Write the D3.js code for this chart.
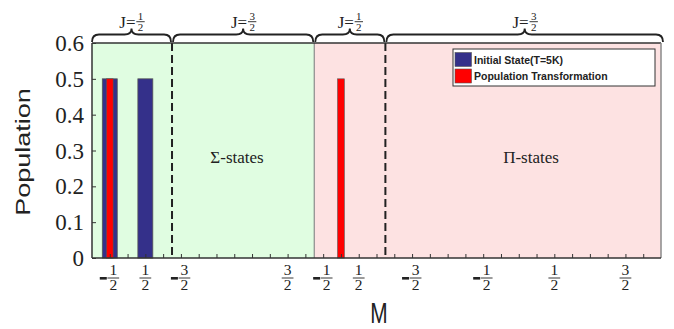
<!DOCTYPE html>
<html>
<head>
<meta charset="utf-8">
<script src="https://cdn.jsdelivr.net/npm/d3@7"></script>
<style>
  html, body { margin: 0; padding: 0; background: #fff; }
  svg { display: block; }
</style>
</head>
<body>
<svg id="chart" width="674" height="329"></svg>
<script>
// Slot index along the M axis (one slot per tick)
const slotTicks = d3.range(1, 32);

// Labelled M values: slot position, numerator, sign
const labelSlots = [1, 3, 5, 11, 13, 15, 18, 22, 26, 30];
const labelNumerators = ["1", "1", "3", "3", "1", "1", "3", "1", "1", "3"];
const labelNegative = [true, false, true, false, true, false, true, true, false, false];

// Series
const initialSlots = [1, 3];
const initialValues = [0.5, 0.5];
const transformSlots = [1, 14];
const transformValues = [0.5, 0.5];

// Electronic-state regions and J manifolds
const regionNames = ["\u03A3-states", "\u03A0-states"];
const regionBounds = [[0, 12.5], [12.5, 32]];
const manifoldBounds = [[0, 4.5], [4.5, 12.5], [12.5, 16.5], [16.5, 32]];
const manifoldJ = ["1", "3", "1", "3"];
const dividerSlots = [4.5, 16.5];

const yTicks = [0, 0.1, 0.2, 0.3, 0.4, 0.5, 0.6];
const legendLabels = ["Initial State(T=5K)", "Population Transformation"];
const colors = { initial: "#34308a", transform: "#ff0000" };
const regionFill = ["#e0fde1", "#fde2e2"];

const svg = d3.select("#chart");
const x = d3.scaleLinear().domain([0, 32]).range([92, 661]);
const y = d3.scaleLinear().domain([0, 0.6]).range([258, 43]);
const serif = "'Liberation Serif', 'DejaVu Serif', serif";
const sans = "'Liberation Sans', Arial, sans-serif";
const ink = "#222";

// Region backgrounds
svg.selectAll("rect.region").data(regionBounds).join("rect")
  .attr("class", "region")
  .attr("x", d => x(d[0])).attr("y", y(0.6))
  .attr("width", d => x(d[1]) - x(d[0])).attr("height", y(0) - y(0.6))
  .attr("fill", (d, i) => regionFill[i]);

// Region boundary
svg.append("line")
  .attr("x1", x(12.5)).attr("x2", x(12.5)).attr("y1", y(0.6)).attr("y2", y(0))
  .attr("stroke", "#8a8a8a").attr("stroke-width", 1.2);

// Bars
const wide = x(0.84) - x(0), narrow = x(0.38) - x(0);
svg.selectAll("rect.initial").data(initialSlots).join("rect")
  .attr("class", "initial")
  .attr("x", d => x(d) - wide / 2).attr("width", wide)
  .attr("y", (d, i) => y(initialValues[i])).attr("height", (d, i) => y(0) - y(initialValues[i]))
  .attr("fill", colors.initial).attr("stroke", "#555").attr("stroke-width", 0.8);
svg.selectAll("rect.transform").data(transformSlots).join("rect")
  .attr("class", "transform")
  .attr("x", d => x(d) - narrow / 2).attr("width", narrow)
  .attr("y", (d, i) => y(transformValues[i])).attr("height", (d, i) => y(0) - y(transformValues[i]))
  .attr("fill", colors.transform).attr("stroke", "#555").attr("stroke-width", 0.6);

// Axes (ticks pointing inward)
const xAxis = svg.append("g").attr("transform", `translate(0,${y(0)})`)
  .call(d3.axisBottom(x).tickValues(slotTicks).tickSize(-4).tickFormat(""));
xAxis.select(".domain").remove();
xAxis.selectAll(".tick line").attr("stroke", "#333").attr("stroke-width", 1);

const yAxis = svg.append("g").attr("transform", `translate(${x(0)},0)`)
  .call(d3.axisLeft(y).tickValues(yTicks).tickSize(-4).tickPadding(8)
    .tickFormat(d => d === 0 ? "0" : d3.format(".1f")(d)));
yAxis.select(".domain").remove();
yAxis.selectAll(".tick line").attr("stroke", "#333");
yAxis.selectAll(".tick text").attr("font-family", serif).attr("font-size", 23)
  .attr("fill", ink).attr("dy", "0.33em");

// Dashed J-manifold dividers
svg.selectAll("line.divider").data(dividerSlots).join("line")
  .attr("class", "divider")
  .attr("x1", d => x(d)).attr("x2", d => x(d)).attr("y1", y(0.6)).attr("y2", y(0))
  .attr("stroke", "#222").attr("stroke-width", 2).attr("stroke-dasharray", "8,4");

// Plot frame
svg.append("line").attr("x1", x(0)).attr("x2", x(32)).attr("y1", y(0.6)).attr("y2", y(0.6))
  .attr("stroke", "#333").attr("stroke-width", 1.5);
svg.append("line").attr("x1", x(32)).attr("x2", x(32)).attr("y1", y(0.6)).attr("y2", y(0))
  .attr("stroke", "#8a8a8a").attr("stroke-width", 1.5);
svg.append("line").attr("x1", x(0)).attr("x2", x(0)).attr("y1", y(0.6)).attr("y2", y(0))
  .attr("stroke", "#333").attr("stroke-width", 1.5);
svg.append("line").attr("x1", x(0)).attr("x2", x(32)).attr("y1", y(0)).attr("y2", y(0))
  .attr("stroke", "#333").attr("stroke-width", 1.5);

// Stacked fraction helper: numerator over 2
function fraction(g, cx, top, num, size, gap) {
  g.append("text").attr("x", cx).attr("y", top).attr("text-anchor", "middle")
    .attr("font-family", serif).attr("font-size", size).attr("fill", ink).text(num);
  g.append("line").attr("x1", cx - size * 0.38).attr("x2", cx + size * 0.38)
    .attr("y1", top + gap).attr("y2", top + gap).attr("stroke", ink).attr("stroke-width", 0.9);
  g.append("text").attr("x", cx).attr("y", top + gap + size * 0.8).attr("text-anchor", "middle")
    .attr("font-family", serif).attr("font-size", size).attr("fill", ink).text("2");
}

// M tick labels
const labelsG = svg.append("g");
labelSlots.forEach((s, i) => {
  const cx = x(s) + (labelNegative[i] ? 3.5 : 0);
  fraction(labelsG, cx, 275, labelNumerators[i], 15.5, 3);
  if (labelNegative[i]) {
    labelsG.append("rect").attr("x", cx - 13.5).attr("y", 277).attr("width", 7).attr("height", 2.6)
      .attr("fill", ink);
  }
});

// Curly braces over each J manifold
function bracePath(x0, x1) {
  const m = (x0 + x1) / 2, r = 7, yEnd = 42, yLine = 34.5, yPeak = 28.5;
  return `M${x0},${yEnd} Q${x0},${yLine} ${x0 + r},${yLine} L${m - r},${yLine} ` +
    `Q${m},${yLine} ${m},${yPeak} Q${m},${yLine} ${m + r},${yLine} L${x1 - r},${yLine} ` +
    `Q${x1},${yLine} ${x1},${yEnd}`;
}
const braceG = svg.append("g");
manifoldBounds.forEach((b, i) => {
  const x0 = x(b[0]) + (i === 0 ? 0 : 1), x1 = x(b[1]) + (i === 3 ? 2 : -1);
  braceG.append("path").attr("d", bracePath(x0, x1))
    .attr("fill", "none").attr("stroke", "#222").attr("stroke-width", 1.8);
  const m = (x0 + x1) / 2;
  braceG.append("text").attr("x", m + 4).attr("y", 28).attr("text-anchor", "end")
    .attr("font-family", serif).attr("font-size", 17).attr("fill", ink).text("J=");
  fraction(braceG, m + 9, 19.5, manifoldJ[i], 11, 2.2);
});

// Region names
svg.selectAll("text.region").data(regionNames).join("text")
  .attr("class", "region")
  .attr("x", (d, i) => i === 0 ? 237 : 531).attr("y", 163)
  .attr("text-anchor", "middle").attr("font-family", serif).attr("font-size", 17)
  .attr("fill", ink).text(d => d);

// Axis titles
svg.append("text").attr("transform", "translate(30,152) scale(0.75,1) rotate(-90)")
  .attr("text-anchor", "middle").attr("font-family", sans).attr("font-size", 27)
  .attr("fill", ink).text("Population");
svg.append("text").attr("transform", "translate(379,323) scale(0.72,1)")
  .attr("text-anchor", "middle").attr("font-family", sans).attr("font-size", 29)
  .attr("fill", ink).text("M");

// Legend
const lg = svg.append("g");
lg.append("rect").attr("x", 453).attr("y", 49).attr("width", 202).attr("height", 37)
  .attr("fill", "#fff").attr("stroke", "#333").attr("stroke-width", 1);
[colors.initial, colors.transform].forEach((c, i) => {
  lg.append("rect").attr("x", 455).attr("y", 52.5 + i * 16.5).attr("width", 16.5).attr("height", 14)
    .attr("fill", c).attr("stroke", "#555").attr("stroke-width", 0.6);
  lg.append("text").attr("x", 474).attr("y", 63.5 + i * 16.5)
    .attr("font-family", sans).attr("font-size", 10.5).attr("font-weight", "bold")
    .attr("fill", ink).text(legendLabels[i]);
});
</script>
</body>
</html>
